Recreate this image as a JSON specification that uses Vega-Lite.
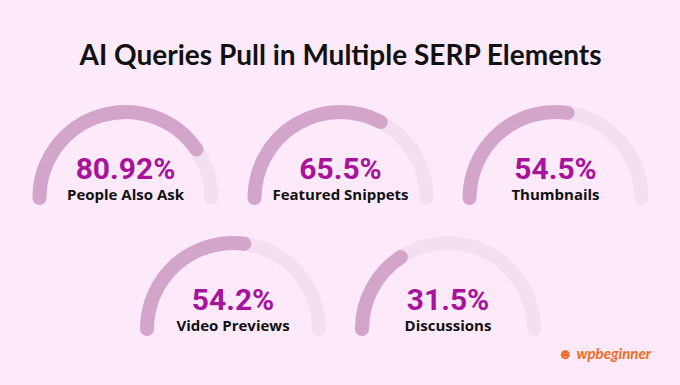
{
  "$schema": "https://vega.github.io/schema/vega-lite/v6.json",
  "background": "#FCEAFB",
  "padding": {"left": 18, "right": 17, "top": 43, "bottom": 30},
  "title": {"text": "☻ wpbeginner", "orient": "bottom", "anchor": "end", "font": "Lato", "fontWeight": "bold", "fontStyle": "italic", "fontSize": 15, "color": "#F26B21", "dx": -12, "offset": 11},
  "data": {"values": [
    {"Element": "People Also Ask", "share": 0.8092},
    {"Element": "Featured Snippets", "share": 0.655},
    {"Element": "Thumbnails", "share": 0.545},
    {"Element": "Video Previews", "share": 0.542},
    {"Element": "Discussions", "share": 0.315}
  ]},
  "spacing": 23,
  "center": true,
  "vconcat": [
    {
      "transform": [{"filter": {"field": "Element", "oneOf": ["People Also Ask", "Featured Snippets", "Thumbnails"]}}],
      "title": {"text": "AI Queries Pull in Multiple SERP Elements", "font": "Lato", "fontSize": 28, "fontWeight": 700, "color": "#111111", "anchor": "middle", "offset": 27},
      "facet": {"column": {"field": "Element", "type": "nominal", "sort": ["People Also Ask", "Featured Snippets", "Thumbnails"], "header": {"title": null, "labels": false}}},
      "spacing": 0,
      "spec": {
        "width": 215, "height": 100,
        "layer": [
          {"mark": {"type": "arc", "radius": 86, "radius2": 86, "filled": false, "strokeWidth": 14, "strokeJoin": "round", "strokeCap": "round", "y": "height", "theta": -1.5708, "theta2": 1.5708, "color": "#F2DFEF"},
           "encoding": {}},
          {"mark": {"type": "arc", "radius": 86, "radius2": 86, "filled": false, "strokeWidth": 14, "strokeJoin": "round", "strokeCap": "round", "y": "height", "color": "#D4A5CB"},
           "encoding": {"theta": {"field": "share", "type": "quantitative", "stack": null, "scale": {"domain": [0, 1], "range": [-1.5708, 1.5708]}}}},
          {"mark": {"type": "text", "y": "height", "dy": -19, "font": "Roboto", "fontWeight": "bold", "fontSize": 30, "color": "#A8139B", "baseline": "alphabetic", "align": "center"},
           "encoding": {"text": {"field": "share", "type": "quantitative", "format": ".2~%"}}},
          {"mark": {"type": "text", "y": "height", "dy": 2, "font": "Open Sans", "fontWeight": "bold", "fontSize": 15, "color": "#111111", "baseline": "alphabetic", "align": "center"},
           "encoding": {"text": {"field": "Element", "type": "nominal"}}}
        ]
      }
    },
    {
      "transform": [{"filter": {"field": "Element", "oneOf": ["Video Previews", "Discussions"]}}],
      "facet": {"column": {"field": "Element", "type": "nominal", "sort": ["Video Previews", "Discussions"], "header": {"title": null, "labels": false}}},
      "spacing": 0,
      "spec": {
        "width": 215, "height": 100,
        "layer": [
          {"mark": {"type": "arc", "radius": 86, "radius2": 86, "filled": false, "strokeWidth": 14, "strokeJoin": "round", "strokeCap": "round", "y": "height", "theta": -1.5708, "theta2": 1.5708, "color": "#F2DFEF"},
           "encoding": {}},
          {"mark": {"type": "arc", "radius": 86, "radius2": 86, "filled": false, "strokeWidth": 14, "strokeJoin": "round", "strokeCap": "round", "y": "height", "color": "#D4A5CB"},
           "encoding": {"theta": {"field": "share", "type": "quantitative", "stack": null, "scale": {"domain": [0, 1], "range": [-1.5708, 1.5708]}}}},
          {"mark": {"type": "text", "y": "height", "dy": -19, "font": "Roboto", "fontWeight": "bold", "fontSize": 30, "color": "#A8139B", "baseline": "alphabetic", "align": "center"},
           "encoding": {"text": {"field": "share", "type": "quantitative", "format": ".2~%"}}},
          {"mark": {"type": "text", "y": "height", "dy": 2, "font": "Open Sans", "fontWeight": "bold", "fontSize": 15, "color": "#111111", "baseline": "alphabetic", "align": "center"},
           "encoding": {"text": {"field": "Element", "type": "nominal"}}}
        ]
      }
    }
  ],
  "config": {"view": {"stroke": null}}
}
